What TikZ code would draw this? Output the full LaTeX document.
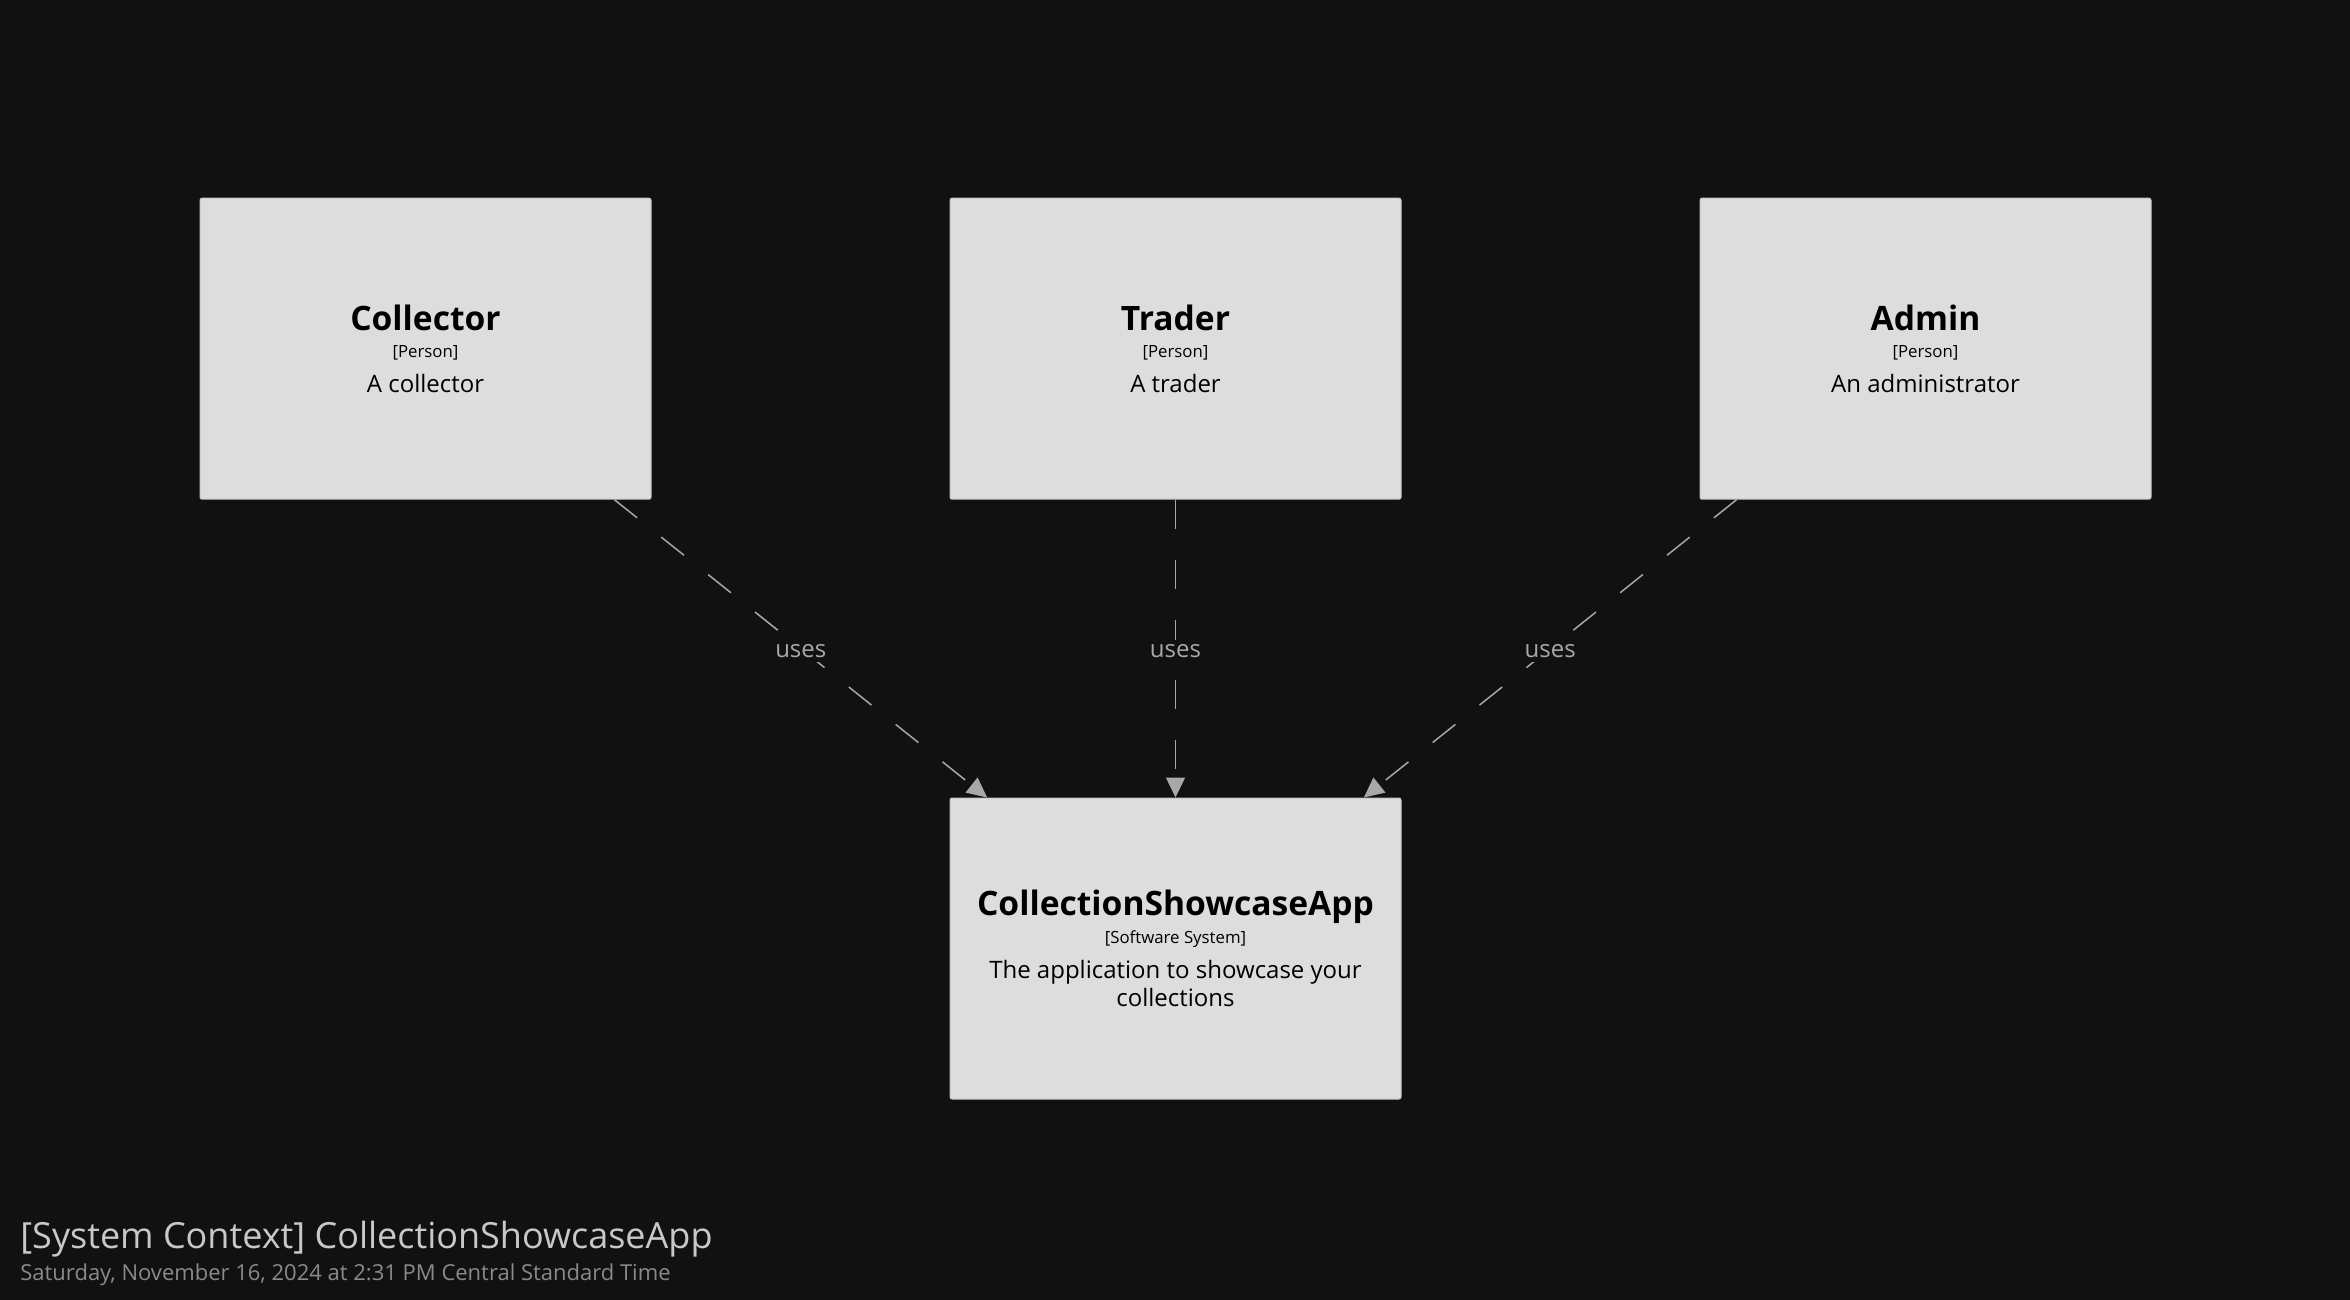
\documentclass[tikz,border=0pt]{standalone}
\usepackage{fontspec}
\setmainfont{Open Sans}
\usetikzlibrary{arrows.meta,positioning}

\definecolor{bg}{HTML}{111111}
\definecolor{boxfill}{HTML}{DDDDDD}
\definecolor{boxline}{HTML}{C4C4C4}
\definecolor{relgrey}{HTML}{A8A8A8}
\definecolor{titlegrey}{HTML}{C8C8C8}
\definecolor{subgrey}{HTML}{8A8A8A}

% name, kind, description
\newcommand{\elemtext}[3]{{\fontsize{16.8}{14}\selectfont\bfseries #1}\\[-0.3pt]%
  {\fontsize{8.4}{14}\selectfont [#2]}\\[3.5pt]#3}

\begin{document}
\begin{tikzpicture}[x=0.5pt,y=-0.5pt,
  elem/.style={rectangle, draw=boxline, fill=boxfill, line width=0.5pt,
    rounded corners=1pt, minimum width=225.5pt, minimum height=150.5pt,
    align=center, text=black, font=\fontsize{12}{14}\selectfont},
  rel/.style={draw=relgrey, line width=0.75pt, dash pattern=on 14.5pt off 15.5pt,
    -{Triangle[length=10pt,width=9.5pt,fill=relgrey]}},
  lbl/.style={fill=bg, text=relgrey, inner sep=2pt, yshift=-1.2pt,
    font=\fontsize{12}{14}\selectfont}]

\fill[bg] (0,0) rectangle (2350,1300);

\node[elem] (collector) at (425.5,348.7) {\elemtext{Collector}{Person}{A collector}};
\node[elem] (trader) at (1175.5,348.7) {\elemtext{Trader}{Person}{A trader}};
\node[elem] (admin) at (1925.5,348.7) {\elemtext{Admin}{Person}{An administrator}};
\node[elem] (app) at (1175.5,948.5) {\elemtext{CollectionShowcaseApp}{Software System}{The application to showcase your\\collections}};

\draw[rel] (collector) -- node[lbl] {uses} (app);
\draw[rel] (trader) -- node[lbl] {uses} (app);
\draw[rel] (admin) -- node[lbl] {uses} (app);

\node[anchor=base west, inner sep=0, text=titlegrey, font=\fontsize{18}{20}\selectfont]
  (title) at (20,1248) {[System Context] CollectionShowcaseApp};
\node[anchor=base west, inner sep=0, text=subgrey, font=\fontsize{11}{13}\selectfont]
  (stamp) at (20,1280) {Saturday, November 16, 2024 at 2:31 PM Central Standard Time};

\end{tikzpicture}
\end{document}
